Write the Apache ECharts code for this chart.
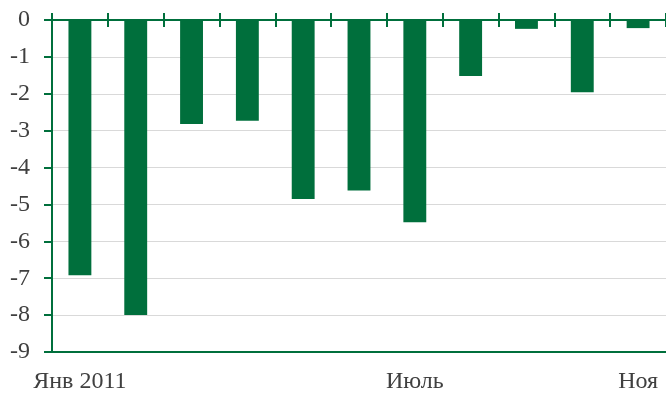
<!DOCTYPE html>
<html><head><meta charset="utf-8">
<script src="https://cdn.jsdelivr.net/npm/echarts@6/dist/echarts.min.js"></script>
<style>html,body{margin:0;padding:0;background:#fff}#c{width:666px;height:394px}</style>
</head><body><div id="c"></div>
<script>
const categories = ['Янв 2011','Фев','Мар','Апр','Май','Июнь','Июль','Авг','Сен','Окт','Ноя'];
const values = [-6.92, -8.0, -2.82, -2.73, -4.85, -4.62, -5.48, -1.52, -0.24, -1.96, -0.22];
const shownLabels = [0, 6, 10];
const yTicks = {min: -9, max: 0, interval: 1};

const green = '#006F3C';
const font = 'Liberation Serif';
const chart = echarts.init(document.getElementById('c'));
chart.setOption({
  animation: false,
  grid: {left: 52, right: -4, top: 20, bottom: 42, containLabel: false},
  xAxis: [
    {type: 'category', data: categories, position: 'bottom',
     axisLine: {onZero: false, lineStyle: {color: green, width: 2}},
     axisTick: {show: false},
     axisLabel: {interval: (i) => shownLabels.includes(i), color: '#404040', fontFamily: font, fontSize: 24, margin: 18},
     splitLine: {show: false}},
    {type: 'category', data: categories, position: 'top',
     axisLine: {onZero: false, lineStyle: {color: green, width: 2}},
     axisTick: {show: true, interval: 0, inside: false, length: 7, lineStyle: {color: green, width: 2}},
     axisLabel: {show: false}},
    {type: 'category', data: categories, position: 'top',
     axisLine: {show: false, onZero: false},
     axisTick: {show: true, interval: 0, inside: true, length: 7, lineStyle: {color: green, width: 2}},
     axisLabel: {show: false}}
  ],
  yAxis: {type: 'value', min: yTicks.min, max: yTicks.max, interval: yTicks.interval,
    axisLine: {show: true, lineStyle: {color: green, width: 2}},
    axisTick: {show: true, length: 8, lineStyle: {color: green, width: 2}},
    axisLabel: {color: '#404040', fontFamily: font, fontSize: 24, margin: 22},
    splitLine: {lineStyle: {color: '#d9d9d9', width: 1}}},
  series: [{type: 'bar', data: values, barWidth: '41%', itemStyle: {color: green}}]
});
</script></body></html>
